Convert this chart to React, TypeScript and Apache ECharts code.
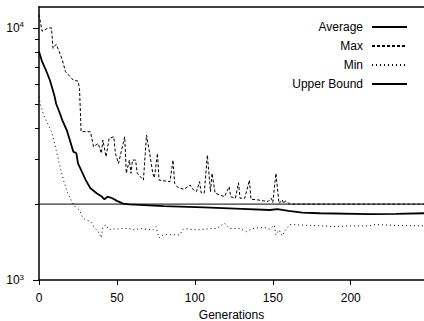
import React, { useEffect, useRef } from "react";
import * as echarts from "echarts";

const FONT = "'Liberation Sans', Arial, Helvetica, sans-serif";

const legendNames = ["Average", "Max", "Min", "Upper Bound"];
const xTicks = [0, 50, 100, 150, 200];
const yMajorTicks = [1000, 10000];
const yMinorTicks = [2000, 3000, 4000, 5000, 6000, 7000, 8000, 9000];
const xMax = 247;
const yMin = 1000;
const yMax = 12100;
const upperBound = 2000;

const averageData: [number, number][] = [
  [0, 8060], [2, 7340], [4, 6900], [7, 6200], [10, 5350], [11, 5000], [13, 4650], [15, 4300],
  [18, 3900], [22, 3230], [24, 3180], [25, 2900], [28, 2650], [30, 2490], [33, 2310],
  [37, 2210], [40, 2150], [42, 2090], [44, 2140], [47, 2110], [50, 2060], [54, 2010],
  [58, 1995], [80, 1965], [106, 1940], [130, 1915], [148, 1895], [153, 1910], [160, 1880],
  [169, 1850], [180, 1840], [212, 1825], [229, 1830], [247, 1840],
];

const maxData: [number, number][] = [
  [0, 11300], [2, 9700], [6, 10000], [8, 10000], [9, 8300], [11, 8600], [13, 8050], [15, 7450],
  [17, 6700], [19, 6500], [21, 6300], [22, 6200], [25, 6150], [26, 5750], [27, 3880], [33, 3870],
  [35, 3380], [38, 3480], [40, 3180], [41, 3590], [43, 3080], [45, 3650], [48, 3700], [49, 3180],
  [51, 2900], [55, 3700], [56, 2650], [58, 2990], [59, 2650], [60, 2990], [62, 2990], [63, 2650],
  [67, 2490], [69, 3760], [71, 3180], [73, 2650], [74, 2540], [76, 3180], [77, 2490], [84, 2455],
  [86, 2990], [87, 2420], [89, 2330], [93, 2290], [97, 2380], [99, 2280], [101, 2240], [103, 2455],
  [104, 2220], [106, 2210], [108, 3130], [110, 2240], [111, 2650], [113, 2210], [116, 2175],
  [119, 2140], [122, 2345], [123, 2140], [126, 2110], [128, 2430], [129, 2110], [132, 2110],
  [135, 2490], [136, 2090], [140, 2080], [144, 2060], [147, 2050], [149, 2110], [150, 2030],
  [152, 2650], [154, 2010], [156, 2080], [157, 2010], [158, 2060], [161, 2000], [247, 2000],
];

const minData: [number, number][] = [
  [0, 5330], [1, 4940], [3, 4510], [6, 4120], [8, 3880], [10, 3480], [12, 3080], [14, 2730],
  [16, 2455], [18, 2240], [20, 2110], [22, 2000], [24, 1930], [26, 1895], [28, 1770], [30, 1730],
  [33, 1710], [35, 1630], [38, 1555], [40, 1470], [41, 1630], [43, 1650], [45, 1580], [47, 1600],
  [49, 1590], [54, 1600], [58, 1600], [61, 1580], [65, 1600], [73, 1580], [75, 1630], [77, 1470],
  [80, 1515], [90, 1510], [93, 1600], [101, 1580], [111, 1600], [114, 1600], [119, 1680],
  [122, 1600], [129, 1600], [133, 1555], [137, 1600], [144, 1620], [148, 1590], [151, 1650],
  [152, 1510], [154, 1580], [156, 1495], [158, 1580], [161, 1660], [190, 1630], [200, 1640],
  [212, 1640], [216, 1660], [230, 1645], [247, 1640],
];

const upperData: [number, number][] = [
  [0, upperBound],
  [xMax, upperBound],
];

export default function App() {
  const ref = useRef<HTMLDivElement>(null);

  useEffect(() => {
    if (!ref.current) return;
    const chart = echarts.init(ref.current, null, { renderer: "svg" });
    const black = "#000";
    chart.setOption({
      animation: false,
      backgroundColor: "#fff",
      textStyle: { fontFamily: FONT },
      grid: { left: 39, right: 0, top: 7, bottom: 41, containLabel: false, outerBoundsMode: "none" },
      legend: {
        data: legendNames,
        orient: "vertical",
        right: 11,
        top: 16,
        align: "right",
        itemWidth: 35,
        itemHeight: 12,
        itemGap: 7,
        selectedMode: false,
        itemStyle: { opacity: 0 },
        textStyle: { fontSize: 12, color: black, fontFamily: FONT, padding: [0, 4, 0, 0] },
      },
      xAxis: [
        {
          type: "value",
          min: 0,
          max: xMax,
          axisLine: { show: true, onZero: false, lineStyle: { color: black, width: 1.5 } },
          axisTick: { show: true, length: 5, customValues: xTicks, lineStyle: { color: black, width: 1 } },
          axisLabel: { customValues: xTicks, margin: 12, fontSize: 12, color: black, fontFamily: FONT },
          splitLine: { show: false },
          name: "Generations",
          nameLocation: "middle",
          nameGap: 28,
          nameTextStyle: { fontSize: 12, color: black, fontFamily: FONT },
        },
        {
          type: "value",
          position: "top",
          min: 0,
          max: xMax,
          axisLine: { show: true, onZero: false, lineStyle: { color: black, width: 1.5 } },
          axisTick: { show: false },
          axisLabel: { show: false },
          splitLine: { show: false },
        },
      ],
      yAxis: [
        {
          type: "log",
          logBase: 10,
          min: yMin,
          max: yMax,
          position: "left",
          axisLine: { show: true, onZero: false, lineStyle: { color: black, width: 1.5 } },
          axisTick: { show: true, length: 6, customValues: yMajorTicks, lineStyle: { color: black, width: 1 } },
          axisLabel: {
            customValues: yMajorTicks,
            margin: 15,
            formatter: (v: number) => `{b|10}{s|${Math.round(Math.log10(v))}}`,
            rich: {
              b: { fontSize: 12, color: black, fontFamily: FONT, lineHeight: 14 },
              s: { fontSize: 8, color: black, fontFamily: FONT, verticalAlign: "top", lineHeight: 9 },
            },
          },
          splitLine: { show: false },
        },
        {
          type: "log",
          logBase: 10,
          min: yMin,
          max: yMax,
          position: "left",
          axisLine: { show: false },
          axisTick: { show: true, length: 4, customValues: yMinorTicks, lineStyle: { color: black, width: 1 } },
          axisLabel: { show: false },
          splitLine: { show: false },
        },
      ],
      series: [
        {
          name: "Average",
          type: "line",
          data: averageData,
          symbol: "none",
          lineStyle: { color: black, width: 1.8, type: "solid" },
          itemStyle: { color: black },
        },
        {
          name: "Max",
          type: "line",
          data: maxData,
          symbol: "none",
          lineStyle: { color: black, width: 1, type: [3, 2] },
          itemStyle: { color: black },
        },
        {
          name: "Min",
          type: "line",
          data: minData,
          symbol: "none",
          lineStyle: { color: black, width: 1, type: [1, 3] },
          itemStyle: { color: black },
        },
        {
          name: "Upper Bound",
          type: "line",
          data: upperData,
          symbol: "none",
          lineStyle: { color: black, width: 1, type: "solid" },
          itemStyle: { color: black },
        },
      ],
    });
    return () => chart.dispose();
  }, []);

  return (
    <div
      ref={ref}
      style={{ position: "fixed", left: 0, top: 0, width: 424, height: 321 }}
    />
  );
}
